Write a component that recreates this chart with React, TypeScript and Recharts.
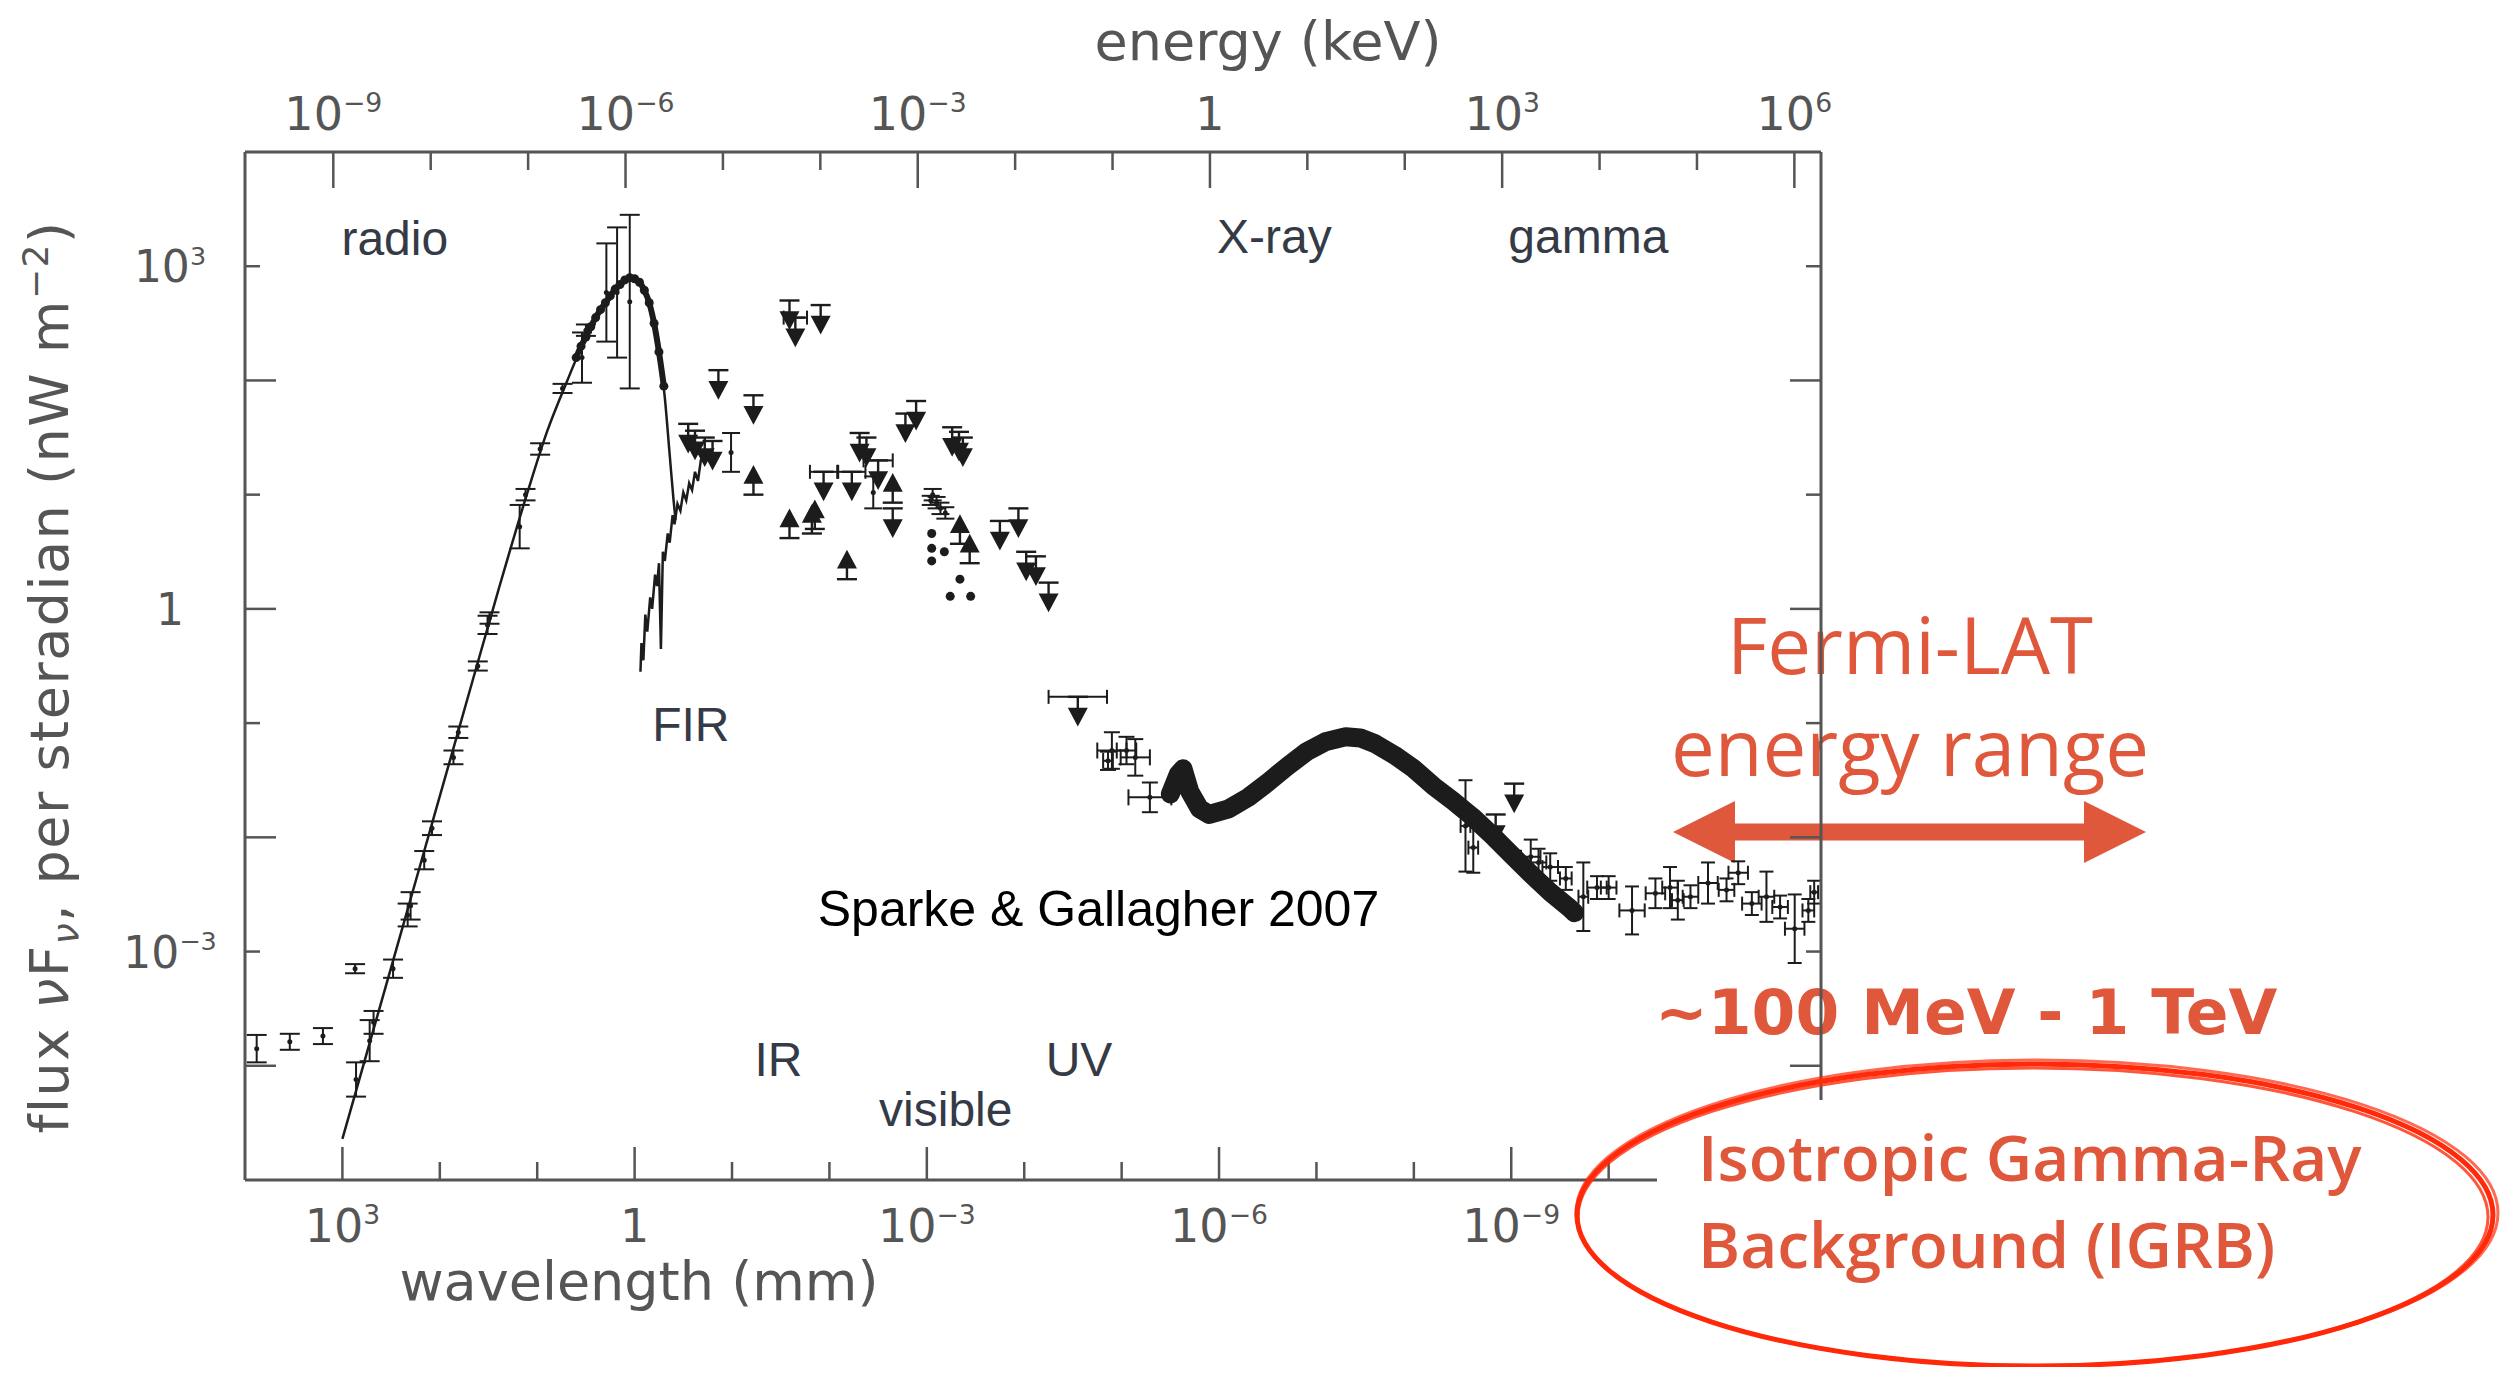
import React from 'react'
import { ComposedChart, Scatter, XAxis, YAxis, ErrorBar } from 'recharts'

const W = 2495
const H = 1359
const INK = '#1c1c1c'
const AXIS = '#555'
const RED = '#e0583c'
const TICK_FONT = '"DejaVu Sans", sans-serif'
const LABEL_FONT = '"Liberation Sans", Arial, sans-serif'

// every value is log10: wavelength in mm, flux in nW m^-2 sr^-1
const cmbLam = [3.0, 2.6, 2.2, 1.8, 1.4, 1.1, 0.9, 0.7, 0.5, 0.35, 0.2, 0.1, 0.02, -0.06, -0.14, -0.2, -0.26, -0.31, -0.36, -0.4, -0.42]
const cmbFlux = [-4.64, -3.44, -2.24, -1.04, 0.16, 1.02, 1.55, 1.98, 2.38, 2.62, 2.8, 2.88, 2.9, 2.85, 2.7, 2.5, 2.2, 1.85, 1.35, 0.95, 0.78]

const firasLam = [0.6, 0.55, 0.5, 0.45, 0.4, 0.35, 0.3, 0.25, 0.2, 0.15, 0.1, 0.05, 0, -0.05, -0.1, -0.15, -0.2, -0.25, -0.3]
const firasFlux = [2.2, 2.3, 2.38, 2.47, 2.55, 2.62, 2.68, 2.74, 2.8, 2.84, 2.88, 2.9, 2.89, 2.86, 2.79, 2.68, 2.5, 2.25, 1.95]

const radioLam = [3.88, 3.54, 3.2, 2.87, 2.86, 2.72, 2.68, 2.48, 2.33, 2.3, 2.16, 2.08, 1.86, 1.81, 1.61, 1.51, 1.49, 1.18, 1.12, 0.97, 0.74, 0.54, 0.5, 0.29, 0.18, 0.05]
const radioFlux = [-3.85, -3.79, -3.74, -3.15, -4.12, -3.78, -3.62, -3.15, -2.68, -2.6, -2.2, -1.92, -1.3, -1.08, -0.5, -0.14, -0.08, 0.72, 1.0, 1.4, 1.93, 2.2, 2.44, 2.77, 2.77, 2.69]
const radioErr = [0.12, 0.07, 0.07, 0.04, 0.15, 0.18, 0.1, 0.08, 0.1, 0.12, 0.08, 0.06, 0.06, 0.05, 0.04, 0.08, 0.05, 0.19, 0.05, 0.05, 0.04, 0.22, 0.05, 0.43, 0.57, 0.76]

const cibLam = [-0.06, -0.07, -0.09, -0.11, -0.13, -0.16, -0.18, -0.21, -0.23, -0.25, -0.27, -0.29, -0.31, -0.34, -0.36, -0.39, -0.41, -0.44, -0.47, -0.5, -0.53, -0.56, -0.59, -0.62, -0.65, -0.68, -0.71]
const cibFlux = [-0.55, -0.3, -0.45, -0.05, -0.2, 0.1, 0.0, 0.3, 0.2, 0.4, -0.35, 0.5, 0.42, 0.66, 0.58, 0.82, 0.74, 0.92, 0.86, 1.02, 0.95, 1.1, 1.04, 1.2, 1.12, 1.3, 1.38]

const irLam = [-0.99, -2.45, -3.04, -3.06, -3.1, -3.14, -3.19]
const irFlux = [1.37, 1.02, 0.95, 1.0, 0.93, 0.88, 0.84]
const irErr = [0.17, 0.14, 0.04, 0.05, 0.05, 0.05, 0.05]

const upperLam = [-0.55, -0.62, -0.72, -0.8, -0.86, -1.22, -1.59, -1.65, -1.91, -1.94, -2.23, -2.31, -2.38, -2.5, -2.65, -2.78, -2.89, -3.26, -3.33, -3.37, -3.75, -3.94, -4.02, -4.12, -4.25, -4.55, -8.84, -9.03]
const upperFlux = [1.62, 1.56, 1.5, 1.47, 2.09, 1.87, 2.7, 2.55, 2.66, 1.2, 1.2, 1.54, 1.5, 1.3, 0.88, 1.71, 1.82, 1.59, 1.55, 1.5, 0.77, 0.88, 0.5, 0.46, 0.23, -0.77, -1.8, -1.53]
const upperXErr = [0, 0, 0, 0, 0, 0, 0, 0.12, 0, 0.14, 0.14, 0, 0, 0.15, 0, 0, 0, 0, 0, 0, 0, 0, 0, 0, 0, 0.3, 0, 0]

const lowerLam = [-1.22, -1.59, -1.82, -1.85, -2.18, -2.65, -3.34, -3.44]
const lowerFlux = [1.0, 0.62, 0.66, 0.7, 0.26, 0.93, 0.57, 0.4]

const dotLam = [-3.05, -3.05, -3.05, -3.18, -3.24, -3.34, -3.45]
const dotFlux = [0.66, 0.53, 0.42, 0.5, 0.11, 0.26, 0.11]

const uvLam = [-4.86, -4.9, -5.05, -5.14, -5.29]
const uvFlux = [-1.33, -1.24, -1.24, -1.3, -1.65]
const uvXErr = [0.05, 0.15, 0.1, 0.15, 0.22]
const uvYErr = [0.08, 0.16, 0.12, 0.16, 0.13]

const bandLam = [-5.5, -5.58, -5.63, -5.7, -5.8, -5.9, -6.1, -6.3, -6.5, -6.7, -6.9, -7.1, -7.3, -7.45, -7.6, -7.8, -8.0, -8.2, -8.4, -8.6, -8.8, -9.0, -9.2, -9.4, -9.6, -9.65]
const bandFlux = [-1.62, -1.45, -1.4, -1.6, -1.75, -1.8, -1.75, -1.65, -1.52, -1.38, -1.25, -1.16, -1.12, -1.13, -1.18, -1.28, -1.4, -1.55, -1.68, -1.82, -1.98, -2.15, -2.32, -2.48, -2.62, -2.66]

const gammaLam = [-8.53, -8.61, -9.2, -9.28, -9.4, -9.56, -9.74, -9.88, -10.0, -10.24, -10.48, -10.63, -10.71, -10.84, -11.02, -11.21, -11.33, -11.47, -11.62, -11.76, -11.91, -12.05, -12.11]
const gammaFlux = [-1.9, -2.09, -2.17, -2.22, -2.26, -2.36, -2.52, -2.44, -2.44, -2.64, -2.49, -2.44, -2.55, -2.52, -2.4, -2.46, -2.31, -2.58, -2.52, -2.61, -2.8, -2.64, -2.48]
const gammaXErr = [0.05, 0.05, 0.1, 0.08, 0.08, 0.06, 0.05, 0.1, 0.08, 0.13, 0.1, 0.08, 0.06, 0.08, 0.1, 0.08, 0.1, 0.1, 0.08, 0.08, 0.1, 0.06, 0.04]
const gammaYErr = [0.4, 0.22, 0.15, 0.12, 0.12, 0.1, 0.3, 0.1, 0.1, 0.21, 0.13, 0.18, 0.17, 0.1, 0.18, 0.1, 0.1, 0.1, 0.22, 0.1, 0.3, 0.1, 0.1]

const regionNames = ['radio', 'X-ray', 'gamma', 'FIR', 'IR', 'visible', 'UV', 'Sparke & Gallagher 2007']
const regionLam = [3.01, -5.98, -8.97, -0.18, -1.23, -2.51, -4.22, -1.88]
const regionFlux = [3.1, 3.12, 3.12, -1.16, -4.09, -4.53, -4.09, -2.78]

// the 10^-12 mark sits under the IGRB panel, so it is left out
const lamTicks = [3, 2, 1, 0, -1, -2, -3, -4, -5, -6, -7, -8, -9, -10, -11]
const energyTicks = [-9, -8, -7, -6, -5, -4, -3, -2, -1, 0, 1, 2, 3, 4, 5, 6]
const fluxTicks = [3, 2, 1, 0, -1, -2, -3, -4]

const LAM_DOMAIN = [-12.18, 4]
const LOG_HC = Math.log10(1.24e-6) // keV mm
const E_DOMAIN = [LOG_HC - LAM_DOMAIN[1], LOG_HC - LAM_DOMAIN[0]]

const pts = (xs: number[], ys: number[]) => xs.map((x, i) => ({ x, y: ys[i] }))

const cmbData = pts(cmbLam, cmbFlux)
const firasData = pts(firasLam, firasFlux)
const radioData = radioLam.map((x, i) => ({ x, y: radioFlux[i], ey: radioErr[i] }))
const cibData = pts(cibLam, cibFlux)
const irData = irLam.map((x, i) => ({ x, y: irFlux[i], ey: irErr[i] }))
const upperData = upperLam.map((x, i) => ({ x, y: upperFlux[i], ex: upperXErr[i] }))
const lowerData = pts(lowerLam, lowerFlux)
const dotData = pts(dotLam, dotFlux)
const uvData = uvLam.map((x, i) => ({ x, y: uvFlux[i], ex: uvXErr[i], ey: uvYErr[i] }))
const bandData = pts(bandLam, bandFlux)
const gammaData = gammaLam.map((x, i) => ({ x, y: gammaFlux[i], ex: gammaXErr[i], ey: gammaYErr[i] }))
const regionData = regionLam.map((x, i) => ({ x, y: regionFlux[i], label: regionNames[i] }))

function Pow({ e, x, y, size }: { e: number; x: number; y: number; size: number }) {
  if (e === 0) {
    return <text x={x} y={y} fontSize={size} textAnchor="middle" fill={AXIS} fontFamily={TICK_FONT}>1</text>
  }
  return (
    <text x={x} y={y} fontSize={size} textAnchor="middle" fill={AXIS} fontFamily={TICK_FONT}>
      10<tspan fontSize={size * 0.58} dy={-size * 0.4}>{e < 0 ? '\u2212' + -e : e}</tspan>
    </text>
  )
}

const BottomTick = (p: any) => {
  const e = Math.round(p.payload.value)
  const major = e % 3 === 0
  return (
    <g>
      <line x1={p.x} y1={p.y} x2={p.x} y2={p.y - (major ? 33 : 18)} stroke={AXIS} strokeWidth={2.5} />
      {major && <Pow e={e} x={p.x} y={p.y + 62} size={46} />}
    </g>
  )
}

const TopTick = (p: any) => {
  const e = Math.round(p.payload.value)
  const major = e % 3 === 0
  return (
    <g>
      <line x1={p.x} y1={p.y} x2={p.x} y2={p.y + (major ? 36 : 18)} stroke={AXIS} strokeWidth={2.5} />
      {major && <Pow e={e} x={p.x} y={p.y - 22} size={46} />}
    </g>
  )
}

const LeftTick = (p: any) => {
  const e = Math.round(p.payload.value)
  const len = Math.abs(e) % 2 === 0 ? 31 : 15
  return (
    <g>
      <line x1={p.x} y1={p.y} x2={p.x + len} y2={p.y} stroke={AXIS} strokeWidth={2.5} />
      {e % 3 === 0 && <Pow e={e} x={p.x - 75} y={p.y + 16} size={44} />}
    </g>
  )
}

const RightTick = (p: any) => {
  const e = Math.round(p.payload.value)
  const len = Math.abs(e) % 2 === 0 ? 31 : 15
  return <line x1={p.x} y1={p.y} x2={p.x - len} y2={p.y} stroke={AXIS} strokeWidth={2.5} />
}

const Hidden = () => <g />
const SmallDot = (p: any) => <circle cx={p.cx} cy={p.cy} r={4.5} fill={INK} />
const TinyDot = (p: any) => <circle cx={p.cx} cy={p.cy} r={2.5} fill={INK} />

const DownArrow = (p: any) => (
  <g stroke={INK} strokeWidth={2.4} fill={INK}>
    <line x1={p.cx - 10} y1={p.cy} x2={p.cx + 10} y2={p.cy} />
    <line x1={p.cx} y1={p.cy} x2={p.cx} y2={p.cy + 14} />
    <path d={`M${p.cx - 8},${p.cy + 12} L${p.cx + 8},${p.cy + 12} L${p.cx},${p.cy + 27} Z`} />
  </g>
)

const UpArrow = (p: any) => (
  <g stroke={INK} strokeWidth={2.4} fill={INK}>
    <line x1={p.cx - 10} y1={p.cy} x2={p.cx + 10} y2={p.cy} />
    <line x1={p.cx} y1={p.cy} x2={p.cx} y2={p.cy - 14} />
    <path d={`M${p.cx - 8},${p.cy - 12} L${p.cx + 8},${p.cy - 12} L${p.cx},${p.cy - 27} Z`} />
  </g>
)

const RegionText = (p: any) => {
  const cite = p.payload.label.startsWith('Sparke')
  return (
    <text
      x={p.cx}
      y={p.cy}
      fontSize={cite ? 50 : 48}
      fontFamily={LABEL_FONT}
      fill={cite ? '#000' : '#343a46'}
    >
      {p.payload.label}
    </text>
  )
}

export default function App() {
  return (
    <div style={{ position: 'relative', width: W, height: H }}>
      <svg width={W} height={H} style={{ position: 'absolute', left: 0, top: 0 }}>
        <g fill={AXIS} fontFamily={TICK_FONT} fontSize={54} style={{ whiteSpace: 'pre' }}>
          <text x={1260} y={52} textAnchor="middle">energy  (keV)</text>
          <text x={631} y={1292} textAnchor="middle">wavelength  (mm)</text>
          <text x={60} y={669} textAnchor="middle" transform="rotate(-90 60 669)" letterSpacing={1.5}>
            flux  <tspan fontStyle="italic">ν</tspan>F<tspan fontSize={38} dy={10} fontStyle="italic">ν</tspan>
            <tspan dy={-10}>,  per  steradian  (nW  m</tspan>
            <tspan fontSize={36} dy={-20}>−2</tspan>
            <tspan dy={20}>)</tspan>
          </text>
        </g>
        <g fill={RED} fontFamily='"Open Sans", sans-serif' fontSize={78} textAnchor="middle">
          <text x={1902} y={666}>Fermi-LAT</text>
          <text x={1902} y={768}>energy range</text>
        </g>
        <path
          d="M1665,824 L1727,793 L1727,815.5 L2076,815.5 L2076,793 L2138,824 L2076,855 L2076,832.5 L1727,832.5 L1727,855 Z"
          fill={RED}
        />
        <text x={1647} y={1026} fill={RED} fontFamily={TICK_FONT} fontWeight="bold" fontSize={63}>
          ~100 MeV - 1 TeV
        </text>
      </svg>

      <div style={{ position: 'absolute', left: 0, top: 0 }}>
        <ComposedChart width={W} height={H} margin={{ top: 0, right: 672, bottom: 0, left: 0 }}>
          <XAxis
            xAxisId="b"
            dataKey="x"
            type="number"
            domain={LAM_DOMAIN}
            reversed
            allowDataOverflow
            ticks={lamTicks}
            interval={0}
            height={187}
            tickSize={0}
            tickMargin={0}
            tickLine={false}
            axisLine={{ stroke: AXIS, strokeWidth: 3 }}
            tick={BottomTick}
          />
          <XAxis
            xAxisId="t"
            dataKey="x"
            orientation="top"
            type="number"
            domain={E_DOMAIN}
            allowDataOverflow
            ticks={energyTicks}
            interval={0}
            height={144}
            tickSize={0}
            tickMargin={0}
            tickLine={false}
            axisLine={{ stroke: AXIS, strokeWidth: 3 }}
            tick={TopTick}
          />
          <YAxis
            yAxisId="l"
            dataKey="y"
            type="number"
            domain={[-5, 4]}
            allowDataOverflow
            ticks={fluxTicks}
            interval={0}
            width={237}
            tickSize={0}
            tickMargin={0}
            tickLine={false}
            axisLine={{ stroke: AXIS, strokeWidth: 3 }}
            tick={LeftTick}
          />
          <YAxis
            yAxisId="r"
            dataKey="y"
            orientation="right"
            type="number"
            domain={[-5, 4]}
            allowDataOverflow
            ticks={fluxTicks}
            interval={0}
            width={10}
            tickSize={0}
            tickMargin={0}
            tickLine={false}
            axisLine={{ stroke: AXIS, strokeWidth: 3 }}
            tick={RightTick}
          />

          <Scatter xAxisId="b" yAxisId="l" data={cibData} line={{ stroke: INK, strokeWidth: 2.5 }} shape={Hidden} isAnimationActive={false} />
          <Scatter xAxisId="b" yAxisId="l" data={cmbData} line={{ stroke: INK, strokeWidth: 2.5 }} lineJointType="monotoneX" shape={Hidden} isAnimationActive={false} />
          <Scatter
            xAxisId="b"
            yAxisId="l"
            data={firasData}
            line={{ stroke: INK, strokeWidth: 6 }}
            lineJointType="monotoneX"
            shape={SmallDot}
            isAnimationActive={false}
          />
          <Scatter xAxisId="b" yAxisId="l" data={radioData} shape={TinyDot} isAnimationActive={false}>
            <ErrorBar dataKey="ey" direction="y" width={10} stroke={INK} strokeWidth={2} />
          </Scatter>
          <Scatter xAxisId="b" yAxisId="l" data={irData} shape={TinyDot} isAnimationActive={false}>
            <ErrorBar dataKey="ey" direction="y" width={9} stroke={INK} strokeWidth={2} />
          </Scatter>
          <Scatter xAxisId="b" yAxisId="l" data={upperData} shape={DownArrow} isAnimationActive={false}>
            <ErrorBar dataKey="ex" direction="x" width={7} stroke={INK} strokeWidth={2} />
          </Scatter>
          <Scatter xAxisId="b" yAxisId="l" data={lowerData} shape={UpArrow} isAnimationActive={false} />
          <Scatter xAxisId="b" yAxisId="l" data={dotData} shape={SmallDot} isAnimationActive={false} />
          <Scatter xAxisId="b" yAxisId="l" data={uvData} shape={TinyDot} isAnimationActive={false}>
            <ErrorBar dataKey="ex" direction="x" width={8} stroke={INK} strokeWidth={2} />
            <ErrorBar dataKey="ey" direction="y" width={8} stroke={INK} strokeWidth={2} />
          </Scatter>
          <Scatter
            xAxisId="b"
            yAxisId="l"
            data={bandData}
            line={{ stroke: INK, strokeWidth: 19, strokeLinejoin: 'round', strokeLinecap: 'round' }}
            shape={Hidden}
            isAnimationActive={false}
          />
          <Scatter xAxisId="b" yAxisId="l" data={gammaData} shape={TinyDot} isAnimationActive={false}>
            <ErrorBar dataKey="ex" direction="x" width={7} stroke={INK} strokeWidth={2} />
            <ErrorBar dataKey="ey" direction="y" width={7} stroke={INK} strokeWidth={2} />
          </Scatter>
          <Scatter xAxisId="b" yAxisId="l" data={regionData} shape={RegionText} isAnimationActive={false} />
        </ComposedChart>
      </div>

      <svg width={W} height={H} style={{ position: 'absolute', left: 0, top: 0, pointerEvents: 'none' }}>
        <rect x={1649} y={1092} width={W - 1649} height={H - 1092} fill="#fff" />
        <g fill="none" stroke="#ff2a0a">
          <ellipse cx={2027} cy={1207} rx={458} ry={151} strokeWidth={5} />
          <ellipse cx={2025} cy={1209} rx={455} ry={149} strokeWidth={3} opacity={0.8} />
          <ellipse cx={2029} cy={1205} rx={461} ry={153} strokeWidth={3} opacity={0.7} />
        </g>
        <g fill={RED} fontFamily='"Open Sans", sans-serif' fontWeight={600} fontSize={64}>
          <text x={1690} y={1173}>Isotropic Gamma-Ray</text>
          <text x={1690} y={1260}>Background (IGRB)</text>
        </g>
      </svg>
    </div>
  )
}
